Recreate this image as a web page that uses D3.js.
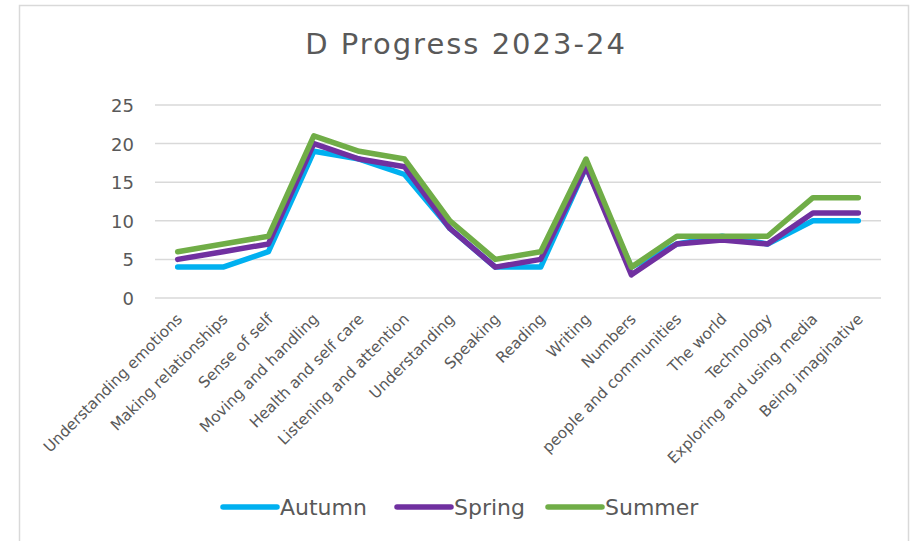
<!DOCTYPE html>
<html>
<head>
<meta charset="utf-8">
<script src="https://cdn.jsdelivr.net/npm/d3@7"></script>
<style>
  body { margin: 0; background: #fff; }
  svg text { font-family: 'DejaVu Sans', sans-serif; fill: #595959; }
</style>
</head>
<body>
<svg id="chart" width="910" height="541"></svg>
<script>
(function(d3) {
  'use strict';

  var categories = [
    'Understanding emotions', 'Making relationships', 'Sense of self',
    'Moving and handling', 'Health and self care', 'Listening and attention',
    'Understanding', 'Speaking', 'Reading', 'Writing', 'Numbers',
    'people and communities', 'The world', 'Technology',
    'Exploring and using media', 'Being imaginative'
  ];
  var autumn = [4, 4, 6, 19, 18, 16, 9, 4, 4, 17, 4, 7, 8, 7, 10, 10];
  var spring = [5, 6, 7, 20, 18, 17, 9, 4, 5, 17, 3, 7, 7.5, 7, 11, 11];
  var summer = [6, 7, 8, 21, 19, 18, 10, 5, 6, 18, 4, 8, 8, 8, 13, 13];
  var yTicks = [0, 5, 10, 15, 20, 25];

  var series = [
    { name: 'Autumn', values: autumn, color: '#00b0f0' },
    { name: 'Spring', values: spring, color: '#7030a0' },
    { name: 'Summer', values: summer, color: '#70ad47' }
  ];

  var svg = d3.select('#chart');

  // chart frame
  svg.append('rect')
    .attr('x', 19.5).attr('y', 5.5)
    .attr('width', 889).attr('height', 560)
    .attr('fill', '#fff')
    .attr('stroke', '#d9d9d9')
    .attr('stroke-width', 1.5);

  svg.append('text')
    .attr('x', 466).attr('y', 54)
    .attr('text-anchor', 'middle')
    .style('font-size', '29px')
    .style('letter-spacing', '2px')
    .text('D Progress 2023-24');

  var x = d3.scalePoint().domain(categories).range([155, 881]).padding(0.5);
  var y = d3.scaleLinear().domain([0, 25]).range([298, 105]);

  // gridlines
  svg.append('g').selectAll('line').data(yTicks).enter().append('line')
    .attr('x1', 155).attr('x2', 881)
    .attr('y1', function(d) { return y(d); })
    .attr('y2', function(d) { return y(d); })
    .attr('stroke', '#d9d9d9')
    .attr('stroke-width', 1.5);

  var yAxis = svg.append('g')
    .attr('transform', 'translate(140,0)')
    .call(d3.axisLeft(y).tickValues(yTicks).tickSize(0).tickPadding(6));
  yAxis.select('.domain').remove();
  yAxis.selectAll('text')
    .style('font-size', '18px')
    .attr('fill', '#595959')
    .attr('dy', '0.36em');

  var xAxis = svg.append('g')
    .attr('transform', 'translate(0,298)')
    .call(d3.axisBottom(x).tickSize(0).tickPadding(0));
  xAxis.select('.domain').remove();
  xAxis.selectAll('text')
    .style('font-size', '15.3px')
    .attr('fill', '#595959')
    .attr('text-anchor', 'end')
    .attr('dy', null)
    .attr('y', 0)
    .attr('transform', 'translate(5,22) rotate(-45)');

  var line = d3.line()
    .x(function(d, i) { return x(categories[i]); })
    .y(function(d) { return y(d); });

  svg.append('g').selectAll('path').data(series).enter().append('path')
    .attr('d', function(s) { return line(s.values); })
    .attr('fill', 'none')
    .attr('stroke', function(s) { return s.color; })
    .attr('stroke-width', 5.5)
    .attr('stroke-linejoin', 'round')
    .attr('stroke-linecap', 'round');

  // legend
  var legendX = [223, 397, 548];
  var lg = svg.append('g').selectAll('g').data(series).enter().append('g')
    .attr('transform', function(s, i) { return 'translate(' + legendX[i] + ',507)'; });
  lg.append('line')
    .attr('x1', 0).attr('x2', 54)
    .attr('stroke', function(s) { return s.color; })
    .attr('stroke-width', 5.5)
    .attr('stroke-linecap', 'round');
  lg.append('text')
    .attr('x', 57).attr('dy', '0.36em')
    .style('font-size', '22px')
    .text(function(s) { return s.name; });
}(d3));
</script>
</body>
</html>
